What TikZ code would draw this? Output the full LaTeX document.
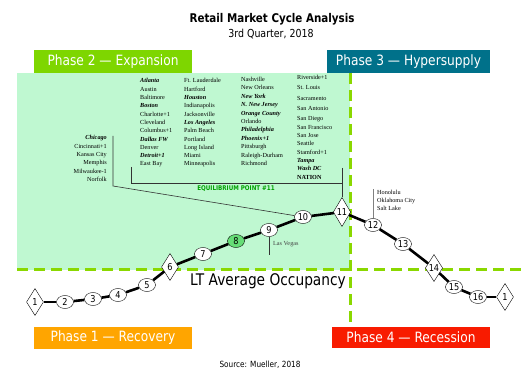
\documentclass[tikz,border=0pt]{standalone}
\usepackage{fontspec}
\setmainfont{Liberation Serif}
\newfontfamily\tahoma[FakeStretch=0.86]{DejaVu Sans}
\usepackage{tikz}
\usetikzlibrary{shapes.geometric, positioning}

\definecolor{expgreen}{HTML}{7ED600}
\definecolor{hypteal}{HTML}{00718A}
\definecolor{recorange}{HTML}{FFA500}
\definecolor{recred}{HTML}{F81B00}
\definecolor{mint}{HTML}{BFF8D1}
\definecolor{dashgreen}{HTML}{8AD800}
\definecolor{eqgreen}{HTML}{00A000}
\definecolor{nowgreen}{HTML}{66DD77}

\newcommand{\hot}[1]{\textbf{\textit{#1}}}

\tikzset{
	phase/.style={minimum width=158pt, minimum height=23pt, inner sep=0pt, text=white, font=\tahoma\fontsize{14.2}{15}\selectfont},
	stage/.style={ellipse, draw, thin, fill=white, minimum width=17pt, minimum height=13pt, inner sep=0pt, font=\tahoma\fontsize{9.5}{10}\selectfont},
	turn/.style={diamond, draw, thin, fill=white, minimum width=17pt, minimum height=27pt, inner sep=0pt, font=\tahoma\fontsize{9.5}{10}\selectfont},
	city/.style={inner sep=0pt, font=\fontsize{6.2}{7}\selectfont},
	cycleline/.style={line width=2.6pt, black},
	bracket/.style={line width=0.6pt, black!80},
	divider/.style={line width=3pt, dashgreen, dash pattern=on 11pt off 6pt}
}

\begin{document}
\begin{tikzpicture}[x=1pt, y=-1pt]
		\useasboundingbox (0,0) rectangle (523,382);
		\fill[white] (0,0) rectangle (523,382);
		
		% 1. Title
		\node[font=\tahoma\bfseries\fontsize{12}{13}\selectfont] (title) at (272,19) {Retail Market Cycle Analysis};
		\node[font=\tahoma\fontsize{11}{12}\selectfont] (quarter) at (271,34) {3rd Quarter, 2018};
		
		% 2. Expansion area and the two dividers
		\fill[mint] (17,73) rectangle (350,270);
		\draw[divider] (17,270) -- (523,270);
		\draw[divider] (350,73) -- (350,327);
		
		% 3. Phase boxes
		\node[phase, fill=expgreen] (ph2) at (113,61.5) {Phase 2 — Expansion};
		\node[phase, fill=hypteal, minimum width=163pt] (ph3) at (408.5,61.5) {Phase 3 — Hypersupply};
		\node[phase, fill=recorange, minimum height=22pt] (ph1) at (113,338) {Phase 1 — Recovery};
		\node[phase, fill=recred, minimum height=21pt] (ph4) at (411,337.5) {Phase 4 — Recession};
		
		\node[font=\tahoma\fontsize{16}{17}\selectfont] (occ) at (268,281) {LT Average Occupancy};
		\node[font=\tahoma\fontsize{8.5}{9}\selectfont] (src) at (260,365) {Source: Mueller, 2018};
		
		% 4. City lists
		\foreach \city [count=\i from 0] in {\hot{Chicago}, Cincinnati+1, Kansas City, Memphis, Milwaukee-1, Norfolk}
			\node[city, anchor=base east] (a\i) at (107,{140+8.3*\i}) {\city};
		\foreach \city [count=\i from 0] in {\hot{Atlanta}, Austin, Baltimore, \hot{Boston}, Charlotte+1, Cleveland, Columbus+1, \hot{Dallas FW}, Denver, \hot{Detroit+1}, East Bay}
			\node[city, anchor=base west] (b\i) at (140,{83+8.3*\i}) {\city};
		\foreach \city [count=\i from 0] in {Ft. Lauderdale, Hartford, \hot{Houston}, Indianapolis, Jacksonville, \hot{Los Angeles}, Palm Beach, Portland, Long Island, Miami, Minneapolis}
			\node[city, anchor=base west] (c\i) at (184,{83+8.3*\i}) {\city};
		\foreach \city [count=\i from 0] in {Nashville, New Orleans, \hot{New York}, \hot{N. New Jersey}, \hot{Orange County}, Orlando, \hot{Philadelphia}, \hot{Phoenix+1}, Pittsburgh, Raleigh-Durham, Richmond}
			\node[city, anchor=base west] (d\i) at (241,{81.5+8.4*\i}) {\city};
		\foreach \city/\yy [count=\i from 0] in {Riverside+1/80, St. Louis/90, Sacramento/101, San Antonio/111, San Diego/121, San Francisco/129.5, San Jose/138, Seattle/146, Stamford+1/154.5, \hot{Tampa}/163, \hot{Wash DC}/171, \textbf{NATION}/180}
			\node[city, anchor=base west] (e\i) at (297,\yy) {\city};
		
		\node[font=\tahoma\bfseries\fontsize{6.5}{7}\selectfont, text=eqgreen] (eq) at (236,189) {EQUILIBRIUM POINT \#11};
		
		% 5. The cycle
		\node[turn] (p1) at (35,302) {1};
		\node[stage] (p2) at (65,302) {2};
		\node[stage] (p3) at (93,299) {3};
		\node[stage] (p4) at (118,295) {4};
		\node[stage] (p5) at (147,285) {5};
		\node[turn] (p6) at (170,267) {6};
		\node[stage] (p7) at (203,254) {7};
		\node[stage, fill=nowgreen] (p8) at (236,241) {8};
		\node[stage] (p9) at (269,230) {9};
		\node[stage] (p10) at (303,217) {10};
		\node[turn, minimum height=29pt] (p11) at (342,212) {11};
		\node[stage] (p12) at (373,225) {12};
		\node[stage] (p13) at (403,244) {13};
		\node[turn] (p14) at (434,268) {14};
		\node[stage] (p15) at (454,287) {15};
		\node[stage] (p16) at (478,297) {16};
		\node[turn] (p17) at (505,297) {1};
		
		\foreach \a/\b in {1/2, 2/3, 3/4, 4/5, 5/6, 6/7, 7/8, 8/9, 9/10, 10/11, 11/12, 12/13, 13/14, 14/15, 15/16, 16/17}
			\draw[cycleline] (p\a) -- (p\b);
		
		% 6. Pointers from the lists
		\coordinate (chiTop) at (113,136);
		\coordinate (chiBend) at (113,186);
		\draw[bracket] (chiTop) -- (chiBend) -- (p10);
		
		\coordinate (midTop) at (131,167);
		\coordinate (midBend) at (131,183);
		\coordinate (natBend) at (342,183);
		\coordinate (natTop) at (342,168);
		\draw[bracket] (midTop) -- (midBend) -- (natBend);
		\draw[bracket] (natTop) -- (p11.north);
		
		\coordinate (vegasEnd) at (269,255);
		\draw[bracket] (p9.south) -- (vegasEnd);
		\node[city, anchor=base west, text=black!75] (vegas) at (273,246) {Las Vegas};
		
		\coordinate (honTop) at (373,189);
		\draw[line width=0.8pt, black!50] (p12.north) -- (honTop);
		\node[city, anchor=base west] (hon) at (377,195) {Honolulu};
		\node[city, anchor=base west] (okc) at (377,203) {Oklahoma City};
		\node[city, anchor=base west] (slc) at (377,211) {Salt Lake};
		
	\end{tikzpicture}
\end{document}
